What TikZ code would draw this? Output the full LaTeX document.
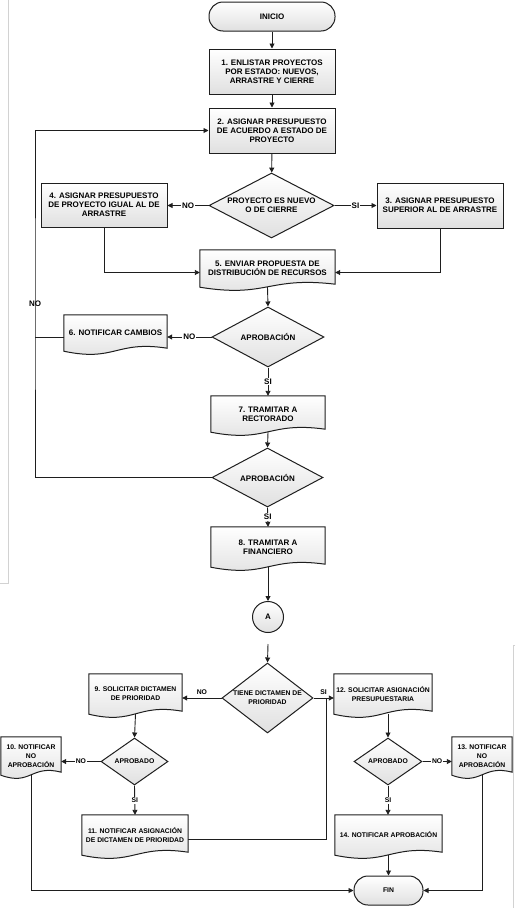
\documentclass[tikz,border=0pt]{standalone}
\usepackage{fontspec}
\setmainfont{Liberation Sans}
\usepackage{tikz}
\usetikzlibrary{
  shapes.geometric, arrows.meta, positioning, calc, backgrounds
}
\definecolor{flowink}{HTML}{1E1E1E}
\definecolor{flowshade}{HTML}{E0E0E0}
\definecolor{pageedge}{HTML}{D2D2D2}
\newcommand{\upfont}{\fontsize{8}{8.8}\selectfont\bfseries}
\newcommand{\lowfont}{\fontsize{6.8}{9}\selectfont\bfseries}
% document outline with the wavy bottom, drawn behind the node text
\newcommand{\docwave}[1]{%
  \begin{pgfonlayer}{background}
    \path[flowfill]
      (#1.north west) -- (#1.north east) -- ([yshift=3pt]#1.south east)
      .. controls ([yshift=11pt]#1.south) and ([yshift=-11pt]#1.south) ..
      (#1.south west) -- cycle;
  \end{pgfonlayer}}

\begin{document}
\begin{tikzpicture}[
  x=1pt, y=-1pt,
  flowfill/.style={draw=flowink, line width=1pt, top color=white, bottom color=flowshade},
  procbox/.style 2 args={
    rectangle, flowfill, minimum width=#1, minimum height=#2,
    align=center, inner sep=1pt, font=\upfont
  },
  docbox/.style 2 args={
    rectangle, minimum width=#1, minimum height=#2,
    align=center, inner sep=1pt, font=\upfont
  },
  decision/.style 2 args={
    diamond, flowfill, minimum width=#1, minimum height=#2,
    inner sep=0pt, align=center, font=\upfont
  },
  endcap/.style 2 args={
    rectangle, rounded corners=14pt, flowfill,
    minimum width=#1, minimum height=#2, font=\upfont
  },
  flow/.style={draw=flowink, line width=0.9pt, -{Triangle[length=5pt,width=5pt]}},
  wire/.style={draw=flowink, line width=0.9pt},
  tag/.style={font=\upfont, fill=white, inner sep=1pt}
]
  \useasboundingbox (0,0) rectangle (515,908);

  % edges of the scanned pages
  \draw[pageedge, line width=0.7pt] (8,0) -- (8,583) -- (0,583);
  \draw[pageedge, line width=0.7pt] (515,645) -- (513,645) -- (513,908);

  % first page
  \node[endcap={126pt}{29pt}] (inicio) at (272,16.5) {INICIO};
  \node[procbox={126pt}{45pt}] (p1) at (272,71.5) {1. ENLISTAR PROYECTOS\\POR ESTADO: NUEVOS,\\ARRASTRE Y CIERRE};
  \node[procbox={126pt}{45pt}] (p2) at (272,130.5) {2. ASIGNAR PRESUPUESTO\\DE ACUERDO A ESTADO DE\\PROYECTO};
  \node[decision={125pt}{65pt}, aspect=1.9] (q1) at (271.5,205.5) {PROYECTO ES NUEVO\\O DE CIERRE};
  \node[procbox={126pt}{44pt}] (p4) at (104,205) {4. ASIGNAR PRESUPUESTO\\DE PROYECTO IGUAL AL DE\\ARRASTRE};
  \node[procbox={126pt}{45pt}] (p3) at (440,205.5) {3. ASIGNAR PRESUPUESTO\\SUPERIOR AL DE ARRASTRE};
  \node[docbox={135pt}{37pt}] (d5) at (267.5,268.5) {5. ENVIAR PROPUESTA DE\\DISTRIBUCIÓN DE RECURSOS};
  \node[decision={112pt}{60pt}, aspect=1.87] (q2) at (268,337) {APROBACIÓN};
  \node[docbox={103pt}{36pt}] (d6) at (115.5,333) {6. NOTIFICAR CAMBIOS};
  \node[docbox={114pt}{36pt}] (d7) at (268,414) {7. TRAMITAR A\\RECTORADO};
  \node[decision={111pt}{59pt}, aspect=1.87] (q3) at (267.5,477.5) {APROBACIÓN};
  \node[docbox={114pt}{40pt}] (d8) at (268,547) {8. TRAMITAR A\\FINANCIERO};
  \node[circle, flowfill, minimum size=31pt, inner sep=0pt, font=\upfont] (pa) at (268,617) {A};

  % second page
  \coordinate (pb) at (268,644);
  \node[decision={91pt}{70pt}, aspect=1.3, font=\lowfont] (q4) at (267.5,698) {TIENE DICTAMEN DE\\PRIORIDAD};
  \node[docbox={93pt}{40pt}, font=\lowfont] (d9) at (135.5,694) {9. SOLICITAR DICTAMEN\\DE PRIORIDAD};
  \node[docbox={98pt}{40pt}, font=\lowfont] (d12) at (383,694) {12. SOLICITAR ASIGNACIÓN\\PRESUPUESTARIA};
  \node[decision={67pt}{47pt}, aspect=1.43, font=\lowfont] (q5) at (134.5,761.5) {APROBADO};
  \node[decision={68pt}{47pt}, aspect=1.43, font=\lowfont] (q6) at (388,761.5) {APROBADO};
  \node[docbox={60pt}{38pt}, font=\lowfont] (d10) at (31,756) {10. NOTIFICAR\\NO\\APROBACIÓN};
  \node[docbox={60pt}{38pt}, font=\lowfont] (d13) at (482,756) {13. NOTIFICAR\\NO\\APROBACIÓN};
  \node[docbox={106pt}{40pt}, font=\lowfont] (d11) at (135,835) {11. NOTIFICAR ASIGNACIÓN\\DE DICTAMEN DE PRIORIDAD};
  \node[docbox={107pt}{40pt}, font=\lowfont] (d14) at (388.5,835) {14. NOTIFICAR APROBACIÓN};
  \node[endcap={69pt}{29pt}, font=\lowfont] (fin) at (388.5,890.5) {FIN};

  \foreach \d in {d5,d6,d7,d8,d9,d10,d11,d12,d13,d14} {\docwave{\d}}

  % connectors, first page
  \draw[flow] (inicio) -- (p1);
  \draw[flow] (p1) -- (p2);
  \draw[flow] (p2) -- (q1);
  \draw[flow] (q1.west) -- (q1.west -| p4.east) node[tag, midway] (no1) {NO};
  \draw[flow] (q1.east) -- (q1.east -| p3.west) node[tag, midway] (si1) {SI};
  \draw[flow] (p4.south) |- ([yshift=-4pt]d5.west);
  \draw[flow] (p3.south) |- ([yshift=-4pt]d5.east);
  \draw[flow] (d5.south) -- (q2.north);
  \draw[flow] (q2.west) -- (q2.west -| d6.east) node[tag, midway] (no2) {NO};
  \draw[flow] (q2.south) -- (d7.north) node[tag, midway] (si2) {SI};
  \draw[flow] (d7.south) -- (q3.north);
  \coordinate (loop) at (35,304);
  \draw[flow] (q3.west) -| (loop) |- (p2.west);
  \node[font=\upfont, inner sep=0pt] (no3) at (loop) {NO};
  \draw[wire] ([yshift=-4pt]d6.west) -- ([yshift=-4pt]d6.west -| loop);
  \draw[flow] (q3.south) -- (d8.north) node[tag, midway] (si3) {SI};
  \draw[flow] (d8.south) -- (pa.north);

  % connectors, second page
  \draw[flow] (pb) -- (q4.north);
  \draw[flow] (q4.west) -- (q4.west -| d9.east) node[tag, midway, above=1.5pt, font=\lowfont] (no4) {NO};
  \draw[flow] (q4.east) -- (q4.east -| d12.west) node[tag, midway, above=1.5pt, font=\lowfont] (si4) {SI};
  \coordinate (join) at ([xshift=13pt]q4.east);
  \draw[wire] ([yshift=-4pt]d11.east) -| (join);
  \draw[flow] (d9.south) -- (q5.north);
  \draw[flow] (q5.west) -- (q5.west -| d10.east) node[tag, midway, font=\lowfont] (no5) {NO};
  \draw[flow] (q5.south) -- (d11.north) node[tag, midway, font=\lowfont] (si5) {SI};
  \draw[flow] (q6.north |- d12.south) -- (q6.north);
  \draw[flow] (q6.east) -- (q6.east -| d13.west) node[tag, midway, font=\lowfont] (no6) {NO};
  \draw[flow] (q6.south) -- (q6.south |- d14.north) node[tag, midway, font=\lowfont] (si6) {SI};
  \draw[flow] (d14.south) -- (fin.north);
  \draw[flow] (d10.south) |- (fin.west);
  \draw[flow] (d13.south) |- (fin.east);
\end{tikzpicture}
\end{document}
